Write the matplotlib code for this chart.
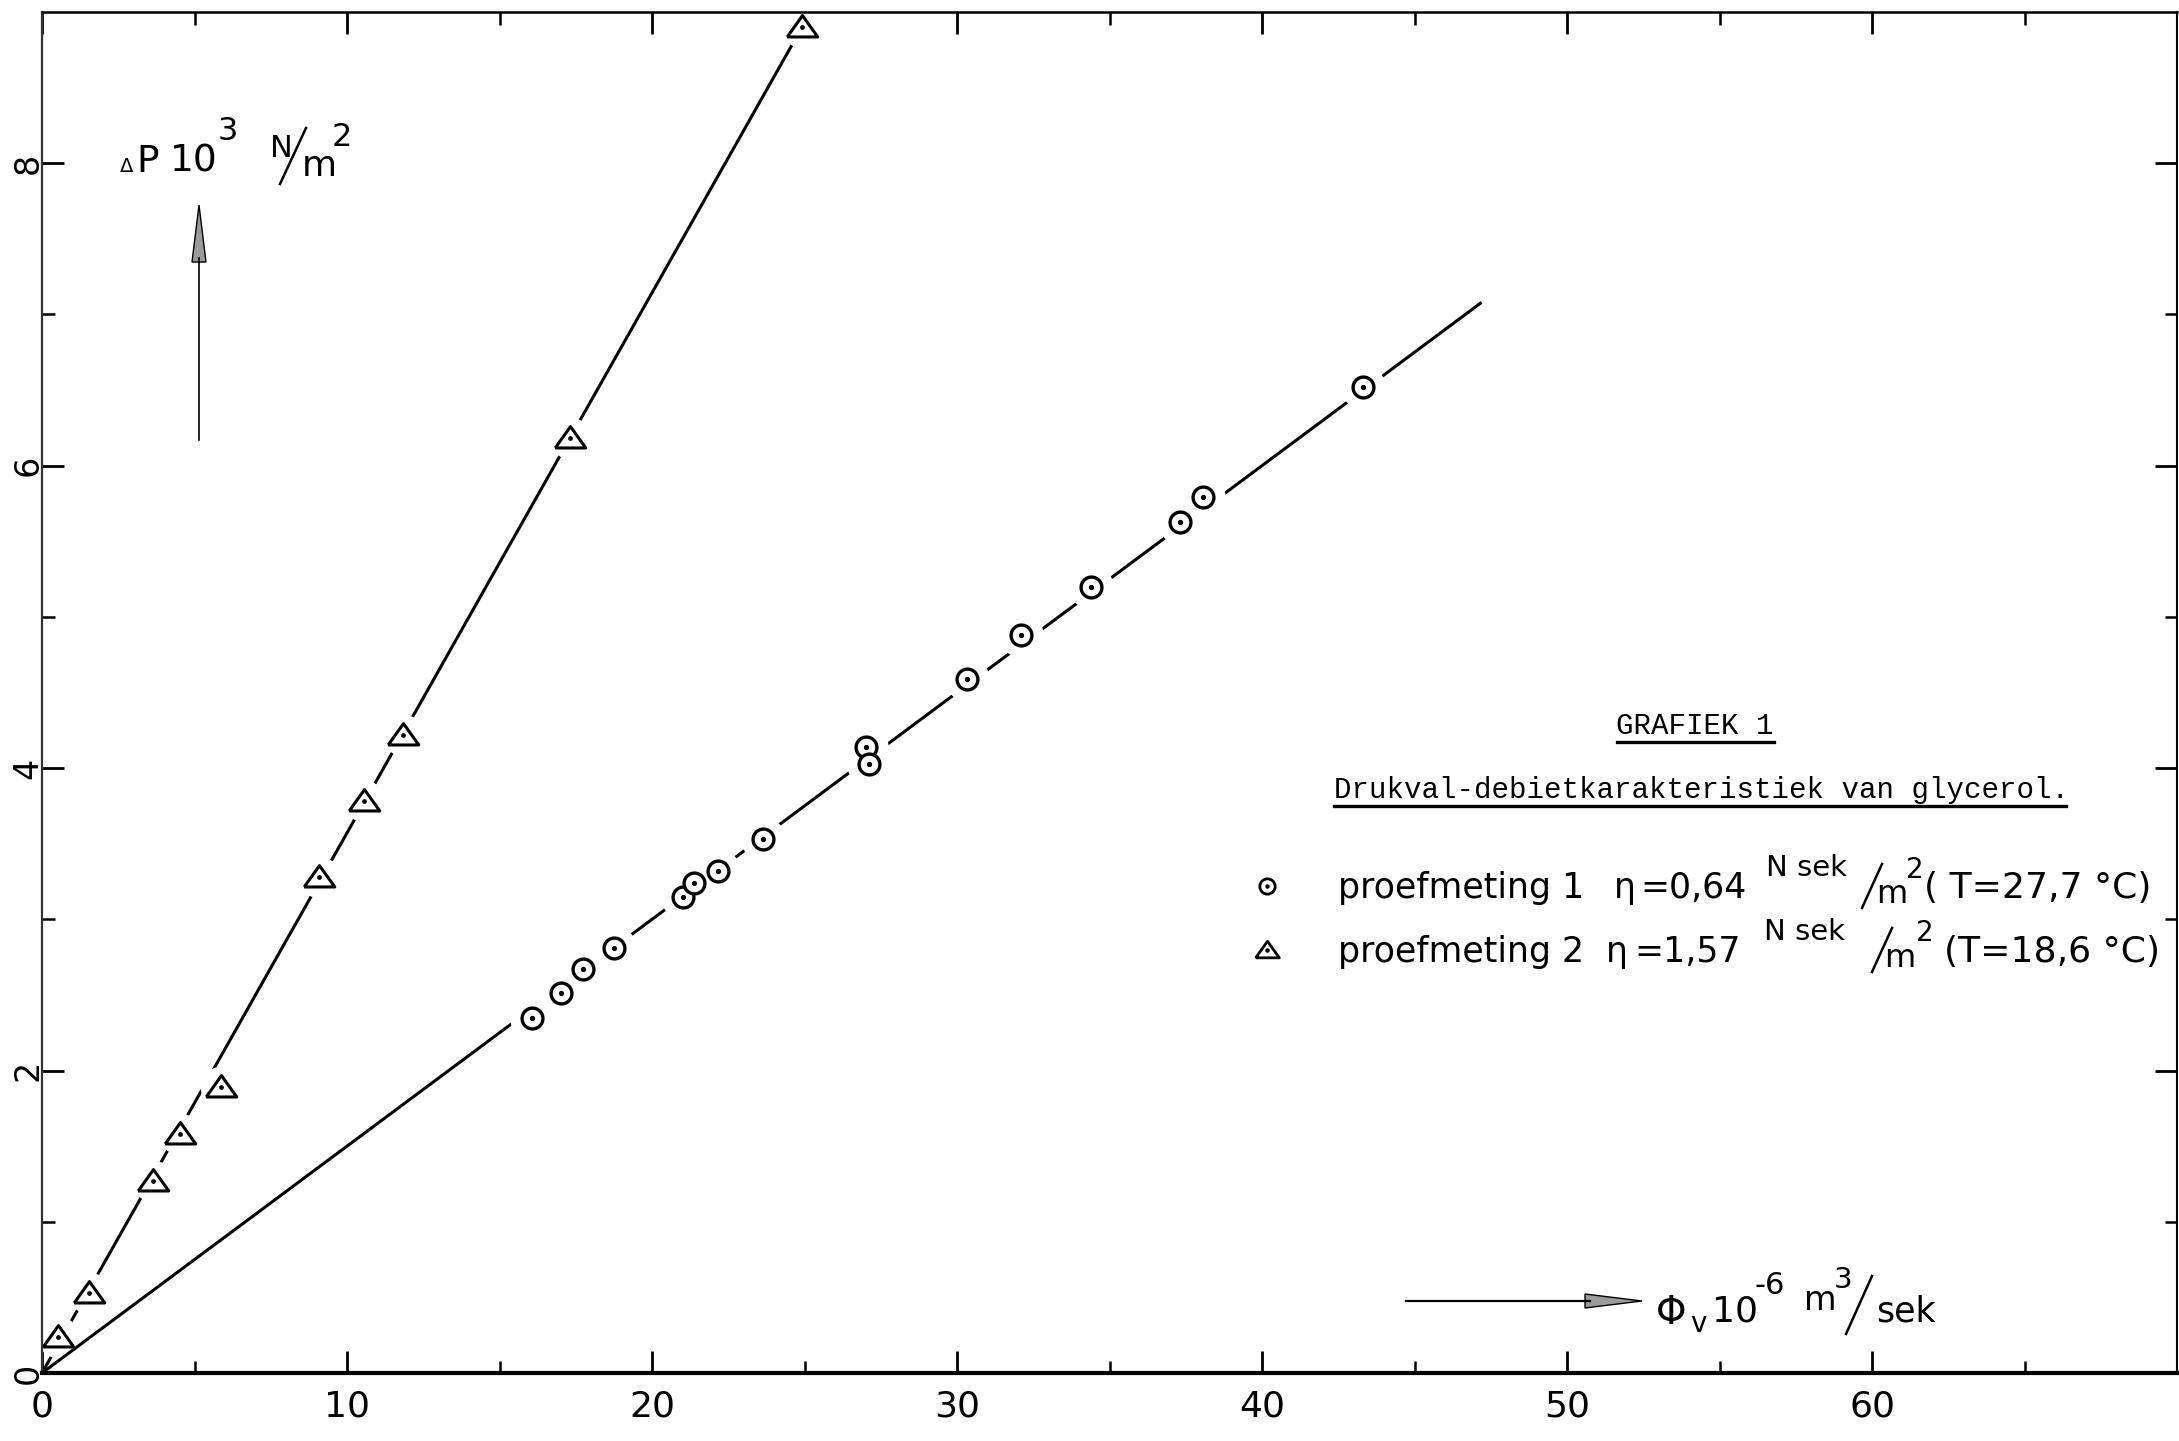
import matplotlib.pyplot as plt
import numpy as np
from matplotlib.lines import Line2D
from matplotlib.patches import Polygon

# proefmeting 1: debiet (10^-6 m3/sek) en drukval (10^3 N/m2)
flow_1 = [16.06, 17.01, 17.74, 18.74, 21.01, 21.37, 22.15, 23.65,
          27.02, 27.11, 30.34, 32.11, 34.39, 37.30, 38.07, 43.31]
dp_1 = [2.35, 2.51, 2.67, 2.81, 3.15, 3.24, 3.32, 3.53,
        4.14, 4.03, 4.59, 4.88, 5.20, 5.63, 5.79, 6.52]

# proefmeting 2
flow_2 = [0.54, 1.54, 3.63, 4.54, 5.86, 9.09, 10.55, 11.82, 17.32, 24.92]
dp_2 = [0.24, 0.53, 1.27, 1.58, 1.89, 3.28, 3.78, 4.22, 6.18, 8.90]

# hand-drawn fit lines through the origin
fit_1_x = [0, 47.2]
fit_1_y = [0, 7.08]
fit_2_x = [0, 24.92]
fit_2_y = [0, 8.90]

x_ticks = [0, 10, 20, 30, 40, 50, 60]
y_ticks = [0, 2, 4, 6, 8]

W, H = 2179, 1441
fig = plt.figure(figsize=(W / 100, H / 100), dpi=100)
ax = fig.add_axes([42 / W, 1 - 1373 / H, (2177 - 42) / W, (1373 - 12) / H])
ax.set_xlim(0, 70)
ax.set_ylim(0, 9)

tri = [(-1, -0.62), (1, -0.62), (0, 0.78), (-1, -0.62)]

# fit lines, opened up around each measurement
ax.plot(fit_2_x, fit_2_y, color="black", lw=2.2, solid_capstyle="butt")
ax.plot(flow_2, dp_2, ls="none", marker="o", ms=30, mfc="white", mec="none")
ax.plot(fit_1_x, fit_1_y, color="black", lw=2.2, solid_capstyle="butt")
ax.plot(flow_1, dp_1, ls="none", marker="o", ms=32, mfc="white", mec="none")

ax.plot(flow_1, dp_1, ls="none", marker="o", ms=15, mfc="white",
        mec="black", mew=2.4)
ax.plot(flow_1, dp_1, ls="none", marker="o", ms=2.8, color="black")
ax.plot(flow_2, dp_2, ls="none", marker=tri, ms=22, mfc="white",
        mec="black", mew=2.2)
ax.plot(flow_2, dp_2, ls="none", marker="o", ms=2.4, color="black")

ax.set_xticks(x_ticks)
ax.set_xticks(np.arange(5, 70, 10), minor=True)
ax.set_yticks(y_ticks)
ax.set_yticks([1, 3, 5, 7], minor=True)
ax.tick_params(which="major", direction="in", length=16, width=2,
               top=True, right=True)
ax.tick_params(which="minor", direction="in", length=9, width=1.8,
               top=True, right=True)
ax.tick_params(axis="x", pad=12, labelsize=26)
ax.tick_params(axis="y", pad=-2, labelsize=24)
for lab in ax.get_yticklabels():
    lab.set_rotation(90)
    lab.set_va("center")

ax.spines["bottom"].set_linewidth(3.0)
ax.spines["left"].set_linewidth(1.6)
ax.spines["left"].set_color("#333333")
ax.spines["top"].set_linewidth(1.8)
ax.spines["right"].set_linewidth(1.5)


def put(px, py, s, size, **kw):
    fig.text(px / W, 1 - py / H, s, fontsize=size, va="baseline", **kw)


def stroke(xs, ys, lw=1.8):
    fig.add_artist(Line2D([x / W for x in xs], [1 - y / H for y in ys],
                          color="black", lw=lw))


def head(pts):
    fig.add_artist(Polygon([(x / W, 1 - y / H) for x, y in pts], closed=True,
                           transform=fig.transFigure, fc="#9a9a9a",
                           ec="black", lw=1.0))


# vertical axis label with arrow
put(120, 172, "Δ", 14)
put(136, 172, "P", 27)
put(170, 172, "10", 27)
put(218, 140, "3", 23)
put(270, 157, "N", 22)
stroke([280, 306], [184, 128])
put(302, 176, "m", 26)
put(332, 146, "2", 23)
stroke([199, 199], [440, 258], lw=1.2)
head([(192, 262), (206, 262), (199, 205)])

# horizontal axis label with arrow
stroke([1406, 1590], [1301, 1301], lw=1.6)
head([(1585, 1294), (1585, 1308), (1642, 1301)])
put(1656, 1324, "Φ", 28)
put(1690, 1332, "v", 20)
put(1712, 1322, "10", 26)
put(1754, 1294, "-6", 22)
put(1804, 1310, "m", 24)
put(1834, 1288, "3", 21)
stroke([1846, 1872], [1334, 1276])
put(1876, 1322, "sek", 25)

# title block
mono = "Liberation Mono"
put(1695, 734, "GRAFIEK 1", 21, family=mono, ha="center")
stroke([1617, 1774], [742, 742], lw=2.4)
put(1334, 798, "Drukval-debietkarakteristiek van glycerol.", 21, family=mono)
stroke([1334, 2066], [806, 806], lw=2.4)

# legend
ax.plot([1267 / W], [1 - 886 / H], transform=fig.transFigure, clip_on=False,
        marker="o", ms=11, mfc="white", mec="black", mew=2.0)
ax.plot([1267 / W], [1 - 886 / H], transform=fig.transFigure, clip_on=False,
        marker="o", ms=2.2, color="black")
ax.plot([1267 / W], [1 - 950 / H], transform=fig.transFigure, clip_on=False,
        marker=tri, ms=17, mfc="white", mec="black", mew=2.0)
ax.plot([1267 / W], [1 - 950 / H], transform=fig.transFigure, clip_on=False,
        marker="o", ms=2.2, color="black")

put(1338, 898, "proefmeting 1", 25)
put(1614, 898, "η", 25)
put(1640, 898, "=0,64", 25)
put(1766, 876, "N sek", 21)
stroke([1862, 1882], [908, 864])
put(1876, 903, "m", 23)
put(1906, 878, "2", 20)
put(1924, 898, "( T=27,7 °C)", 26)

put(1338, 962, "proefmeting 2", 25)
put(1606, 962, "η", 25)
put(1634, 962, "=1,57", 25)
put(1764, 940, "N sek", 21)
stroke([1872, 1892], [972, 928])
put(1884, 967, "m", 23)
put(1916, 941, "2", 20)
put(1944, 962, "(T=18,6 °C)", 26)

fig.savefig("out.png", dpi=100)
